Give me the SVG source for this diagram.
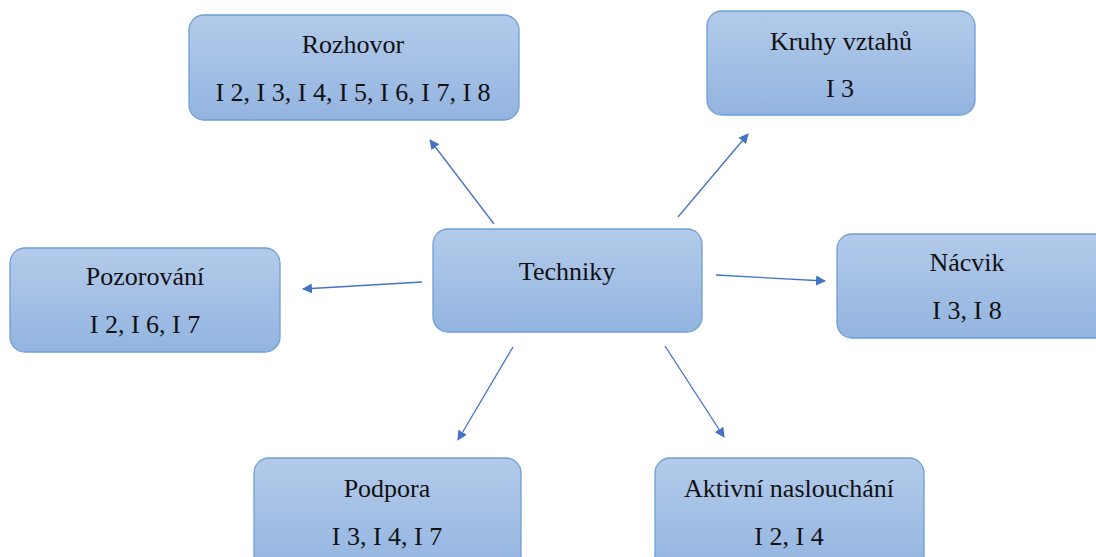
<svg xmlns="http://www.w3.org/2000/svg" width="1096" height="557" viewBox="0 0 1096 557">
<defs>
<linearGradient id="g" x1="0" y1="0" x2="0" y2="1">
<stop offset="0" stop-color="#b3cbea"/>
<stop offset="1" stop-color="#93b4e0"/>
</linearGradient>
<marker id="ah" viewBox="0 0 10 10" refX="9" refY="5" markerWidth="10" markerHeight="10" markerUnits="userSpaceOnUse" orient="auto">
<path d="M0,0 L10,5 L0,10 z" fill="#4472c4"/>
</marker>
<style>
.box{fill:url(#g);stroke:#6d9fd6;stroke-width:1.3}
.t{font-family:'Liberation Serif','Times New Roman',serif;font-size:26px;fill:#111;text-anchor:middle}
.c{stroke:#4472c4;stroke-width:1.3;fill:none;marker-end:url(#ah)}
</style>
</defs>
<rect width="1096" height="557" fill="#fff"/>
<g id="connectors">
<line class="c" x1="494" y1="224" x2="430" y2="140"/>
<line class="c" x1="678" y1="217" x2="748" y2="134"/>
<line class="c" x1="422" y1="282" x2="303" y2="289"/>
<line class="c" x1="716" y1="275" x2="825" y2="281"/>
<line class="c" x1="513" y1="347" x2="458" y2="440"/>
<line class="c" x1="665" y1="346" x2="724" y2="437"/>
</g>
<g id="rozhovor">
<rect class="box" x="189" y="15" width="330" height="105" rx="15"/>
<text class="t" font-family="Liberation Serif, serif" x="353" y="53">Rozhovor</text>
<text class="t" font-family="Liberation Serif, serif" x="353" y="101">I 2, I 3, I 4, I 5, I 6, I 7, I 8</text>
</g>
<g id="kruhy">
<rect class="box" x="707" y="11" width="268" height="104" rx="15"/>
<text class="t" font-family="Liberation Serif, serif" x="841" y="50">Kruhy vztahů</text>
<text class="t" font-family="Liberation Serif, serif" x="840" y="97">I 3</text>
</g>
<g id="techniky">
<rect class="box" x="433" y="229" width="269" height="103" rx="15"/>
<text class="t" font-family="Liberation Serif, serif" x="567" y="280">Techniky</text>
</g>
<g id="pozorovani">
<rect class="box" x="10" y="248" width="270" height="104" rx="15"/>
<text class="t" font-family="Liberation Serif, serif" x="145" y="285">Pozorování</text>
<text class="t" font-family="Liberation Serif, serif" x="145" y="333">I 2, I 6, I 7</text>
</g>
<g id="nacvik">
<rect class="box" x="837" y="234" width="275" height="104" rx="15"/>
<text class="t" font-family="Liberation Serif, serif" x="967" y="271">Nácvik</text>
<text class="t" font-family="Liberation Serif, serif" x="967" y="319">I 3, I 8</text>
</g>
<g id="podpora">
<rect class="box" x="254" y="458" width="267" height="115" rx="15"/>
<text class="t" font-family="Liberation Serif, serif" x="387" y="497">Podpora</text>
<text class="t" font-family="Liberation Serif, serif" x="387" y="545">I 3, I 4, I 7</text>
</g>
<g id="aktivni">
<rect class="box" x="655" y="458" width="269" height="115" rx="15"/>
<text class="t" font-family="Liberation Serif, serif" x="789" y="497">Aktivní naslouchání</text>
<text class="t" font-family="Liberation Serif, serif" x="789" y="545">I 2, I 4</text>
</g>
</svg>
